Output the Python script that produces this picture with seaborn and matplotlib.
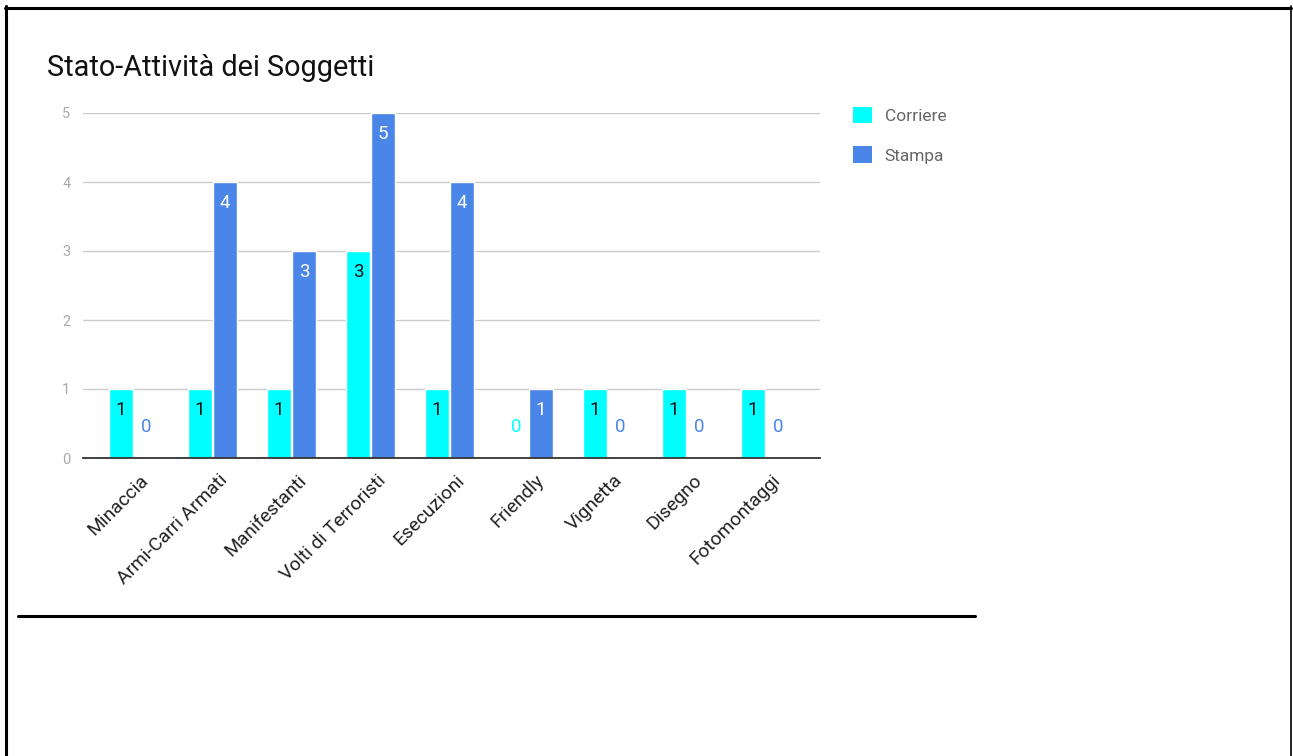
import matplotlib
matplotlib.use("Agg")
import matplotlib.pyplot as plt
from matplotlib.lines import Line2D
from matplotlib.patches import Patch
from matplotlib.transforms import ScaledTranslation
import seaborn as sns
import pandas as pd

categories = ["Minaccia", "Armi-Carri Armati", "Manifestanti", "Volti di Terroristi",
              "Esecuzioni", "Friendly", "Vignetta", "Disegno", "Fotomontaggi"]
corriere = [1, 1, 1, 3, 1, 0, 1, 1, 1]
stampa = [0, 4, 3, 5, 4, 1, 0, 0, 0]
series_names = ["Corriere", "Stampa"]
colors = {"Corriere": "#00FFFF", "Stampa": "#4A86E8"}
label_inside = {"Corriere": "#111111", "Stampa": "#FFFFFF"}
title = "Stato-Attività dei Soggetti"

df = pd.DataFrame({
    "cat": categories * 2,
    "val": corriere + stampa,
    "serie": [series_names[0]] * len(categories) + [series_names[1]] * len(categories),
})

sns.set_theme(style="white")
plt.rcParams["font.family"] = ["Roboto", "DejaVu Sans"]

W, H = 1293, 756
fig = plt.figure(figsize=(W / 100, H / 100), dpi=100)
fig.patch.set_facecolor("white")
ax = fig.add_axes([83 / W, 1 - 458 / H, (820 - 83) / W, (458 - 113) / H])

sns.barplot(data=df, x="cat", y="val", hue="serie", order=categories,
            hue_order=series_names, palette=colors, width=0.64, gap=0.04,
            saturation=1, legend=False, ax=ax, errorbar=None)

ax.set_xlim(-0.64, 8.69)
ax.set_ylim(0, 5)
ax.set_yticks(range(0, 6))
ax.set_xlabel("")
ax.set_ylabel("")
for s in ["top", "right", "left"]:
    ax.spines[s].set_visible(False)
ax.spines["bottom"].set_color("#333333")
ax.spines["bottom"].set_linewidth(1.3)
ax.yaxis.grid(True, color="#cccccc", linewidth=1)
ax.set_axisbelow(True)
ax.tick_params(axis="y", length=0, pad=9, labelsize=10.5, labelcolor="#aaaaaa")
ax.tick_params(axis="x", length=0, pad=9.5, labelsize=13.8, labelcolor="#222222")
shift = ScaledTranslation(6 / 100, 0, fig.dpi_scale_trans)
for lab in ax.get_xticklabels():
    lab.set_rotation(45)
    lab.set_ha("right")
    lab.set_va("top")
    lab.set_rotation_mode("anchor")
    lab.set_transform(lab.get_transform() + shift)

for cont, name in zip(ax.containers, series_names):
    for bar in cont:
        h = bar.get_height()
        xc = bar.get_x() + bar.get_width() / 2
        if h > 0:
            ax.annotate(f"{int(round(h))}", (xc, h), xytext=(0, -14.8),
                        textcoords="offset points", ha="center", va="center",
                        fontsize=13.5, color=label_inside[name])
        else:
            ax.annotate("0", (xc, 0), xytext=(0, 22.3),
                        textcoords="offset points", ha="center", va="center",
                        fontsize=13.5, color=colors[name])

# title
fig.text(47 / W, 1 - 76 / H, title, fontsize=20.8, color="#111111", va="baseline", ha="left")

# legend
handles = [Patch(facecolor=colors[n], edgecolor="none") for n in series_names]
leg = fig.legend(handles, series_names, loc="upper left",
                 bbox_to_anchor=(837 / W, 1 - 91 / H), frameon=False,
                 fontsize=12.5, handlelength=1.1, handleheight=1.1,
                 handletextpad=0.75, labelspacing=1.3)
for t in leg.get_texts():
    t.set_color("#666666")

# page frame and separator
fig.add_artist(Line2D([6 / W, 6 / W], [0, 1 - 6 / H], transform=fig.transFigure,
                      color="black", linewidth=2.2))
fig.add_artist(Line2D([5 / W, 1291 / W], [1 - 7.5 / H, 1 - 7.5 / H], transform=fig.transFigure,
                      color="black", linewidth=2.2))
fig.add_artist(Line2D([1290.5 / W, 1290.5 / W], [0, 1 - 6 / H], transform=fig.transFigure,
                      color="black", linewidth=1.2))
fig.add_artist(Line2D([18 / W, 975 / W], [1 - 616 / H, 1 - 616 / H], transform=fig.transFigure,
                      color="black", linewidth=2.2))

fig.savefig("out.png", dpi=100, facecolor="white")
